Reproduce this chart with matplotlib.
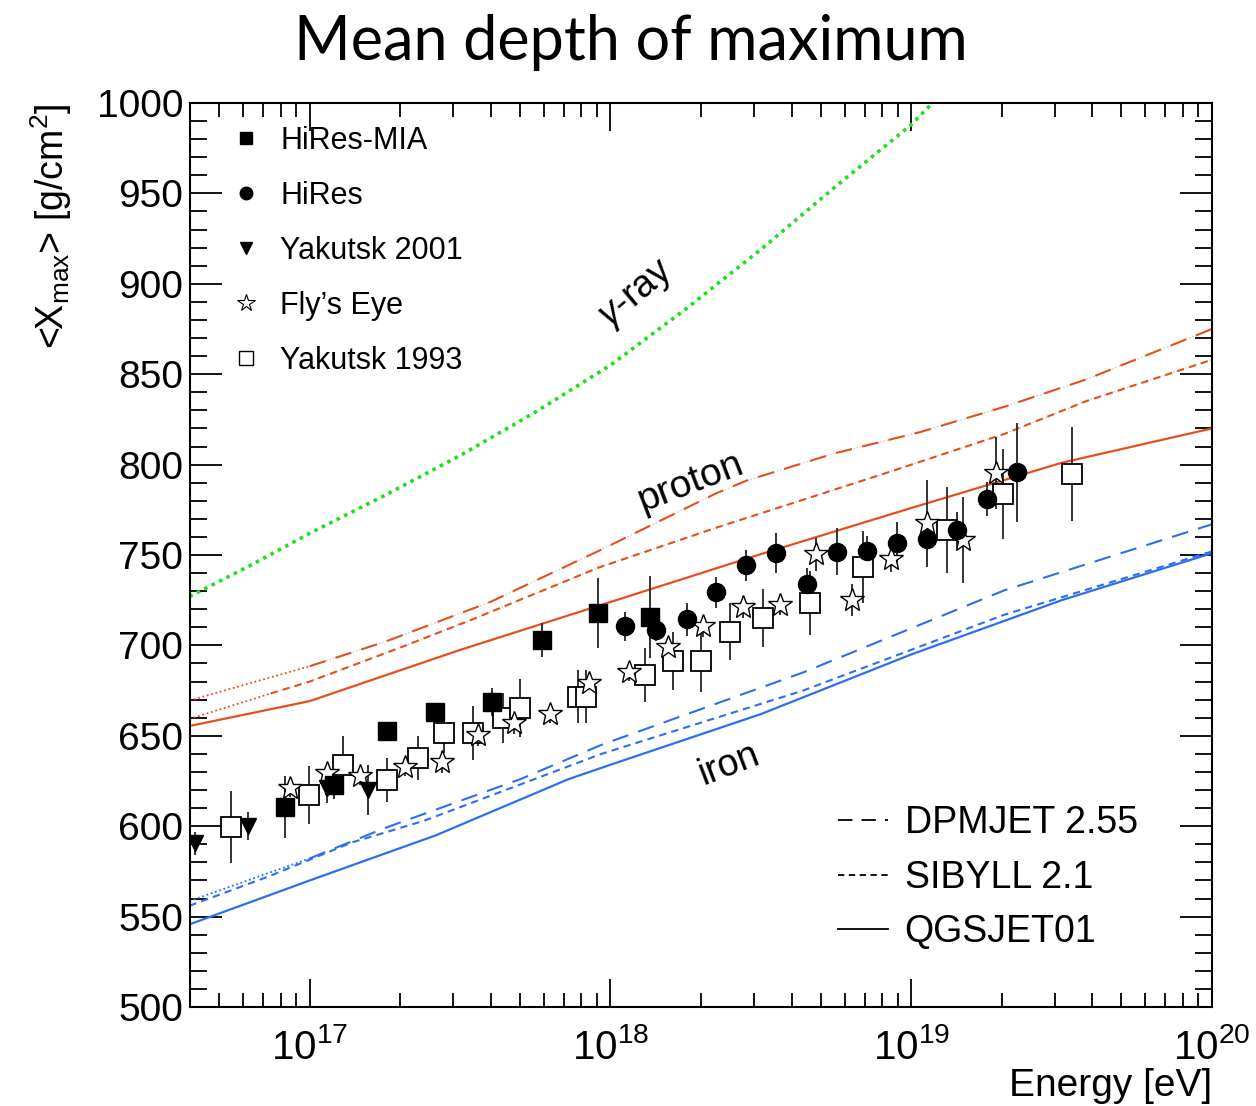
import numpy as np
import matplotlib
matplotlib.use('Agg')
import matplotlib.pyplot as plt
from matplotlib.lines import Line2D
from matplotlib.ticker import LogLocator, MultipleLocator, NullFormatter

plt.rcParams['font.family'] = ['Liberation Sans', 'DejaVu Sans']
plt.rcParams['mathtext.fontset'] = 'custom'
plt.rcParams['mathtext.rm'] = 'Liberation Sans'
plt.rcParams['mathtext.it'] = 'Liberation Sans:italic'

# --- data points (energy in eV, Xmax in g/cm2, error) ---
mia_E = [8.3e16, 1.2e17, 1.81e17, 2.6e17, 4.05e17, 5.9e17, 9.1e17, 1.35e18]
mia_X = [610.6, 622.8, 652.7, 663.2, 668.7, 703.0, 717.9, 715.7]
mia_err = [17, 8, 5, 5, 8, 9.5, 19.5, 22.5]

hires_E = [1.12e18, 1.42e18, 1.79e18, 2.25e18, 2.82e18, 3.56e18, 4.49e18,
           5.65e18, 7.11e18, 8.94e18, 1.125e19, 1.42e19, 1.78e19, 2.25e19]
hires_X = [710.7, 708.5, 714.4, 729.4, 744.3, 750.9, 733.9,
           751.7, 752.2, 756.5, 758.7, 763.8, 781.1, 795.7]
hires_err = [8, 6, 9, 8.5, 8.5, 11, 9, 13, 8.5, 12, 14, 10, 9.5, 27.5]

yak01_E = [4.16e16, 6.25e16, 1.14e17, 1.56e17]
yak01_X = [590.5, 600.1, 620.9, 620.0]
yak01_err = [6.5, 7.5, 8, 14]

fly_E = [8.6e16, 1.14e17, 1.47e17, 2.08e17, 2.75e17, 3.62e17, 4.76e17, 6.28e17,
         8.46e17, 1.15e18, 1.55e18, 2.03e18, 2.75e18, 3.67e18, 4.81e18, 6.34e18,
         8.54e18, 1.125e19, 1.49e19, 1.92e19]
fly_X = [620.9, 629.3, 627.8, 632.9, 635.7, 650.4, 656.9, 661.9,
         679.0, 685.5, 698.9, 710.7, 721.4, 722.6, 750.3, 725.1,
         747.6, 767.5, 758.3, 795.2]
fly_err = [5, 5, 5, 5, 6, 6, 6, 5, 6, 5, 6, 6, 6, 6, 9, 9, 7, 24, 24, 20]

yak93_E = [5.46e16, 9.96e16, 1.29e17, 1.80e17, 2.29e17, 2.79e17, 3.49e17,
           4.40e17, 4.99e17, 7.78e17, 8.32e17, 1.30e18, 1.61e18, 2.00e18,
           2.50e18, 3.21e18, 4.62e18, 6.93e18, 1.31e19, 2.02e19, 3.42e19]
yak93_X = [599.7, 617.3, 633.8, 625.5, 637.6, 651.4, 651.7,
           659.7, 665.6, 671.6, 671.6, 683.6, 691.5, 691.5,
           707.6, 715.3, 723.4, 743.5, 763.8, 783.6, 794.8]
yak93_err = [20, 16, 16.3, 12, 12.2, 11, 15, 13.8, 16, 14.7, 14.7, 15, 16, 17.5,
             15.9, 16, 17.8, 20, 23.8, 25, 25.8]

# --- model curves (log10 E, Xmax) ---
gam_lgE = [16.6, 16.8, 17.0, 17.25, 17.5, 17.75, 18.0, 18.25, 18.5, 18.75, 19.0, 19.1]
gam_X = [727, 744, 762, 783, 805, 829, 855, 886, 919, 954, 988, 1005]

p_dpm_lgE = [16.6, 17.0, 17.25, 17.6, 17.97, 18.35, 18.45, 18.74, 19.03, 19.31, 19.58, 20.0]
p_dpm_X = [669.5, 688.5, 702, 724, 753, 784, 791, 806, 818, 832, 847, 875]
p_sib_lgE = [16.6, 16.87, 17.0, 17.32, 17.55, 17.96, 18.35, 18.91, 19.31, 19.58, 20.0]
p_sib_X = [659.3, 673.4, 680, 700, 715, 743, 765, 795, 817, 835, 858]
p_qgs_lgE = [16.6, 17.0, 17.5, 18.0, 18.5, 19.0, 19.5, 20.0]
p_qgs_X = [655.4, 669.2, 697.5, 724, 750.5, 776, 801, 820]

fe_dpm_lgE = [16.6, 17.0, 17.25, 17.7, 17.97, 18.64, 19.31, 20.0]
fe_dpm_X = [558.6, 582.2, 599, 626, 645, 685, 730.5, 767]
fe_sib_lgE = [16.6, 16.86, 17.14, 17.38, 17.97, 18.64, 19.31, 20.0]
fe_sib_X = [556, 572, 591, 603, 640, 675, 717, 752]
fe_qgs_lgE = [16.6, 17.0, 17.42, 17.86, 18.0, 18.5, 19.0, 19.5, 20.0]
fe_qgs_X = [545.7, 570, 595, 626, 634, 662, 695, 725, 751]

red = '#e4501c'
blue = '#2b6ff0'
green = '#1ee01e'
LONG = (8, 5)
SHORT = (3.5, 2.5)

fig = plt.figure(figsize=(12.56, 11.06), dpi=100)
ax = fig.add_axes([0.1513, 0.0895, 0.8137, 0.8174])


def curve(lgE, X, color, style, split=None):
    E = 10 ** np.array(lgE)
    X = np.array(X)
    if split is not None:
        m = np.array(lgE) <= split + 1e-9
        ax.plot(E[m], X[m], color=color, lw=1.3, ls=(0, (1, 1.5)))
        E2 = np.concatenate([[10 ** split], E[~m]])
        X2 = np.concatenate([[np.interp(split, lgE, X)], X[~m]])
    else:
        E2, X2 = E, X
    if style == 'solid':
        ax.plot(E2, X2, color=color, lw=1.6)
    else:
        if color == red:
            ax.plot(E2, X2, color='#c8c8c8', lw=1.0, ls=(0, (1, 1.5)))
        ax.plot(E2, X2, color=color, lw=1.5, ls=(0, style))


ax.plot(10 ** np.array(gam_lgE), gam_X, color=green, lw=2.6, ls=(0, (1, 1.3)))

curve(p_dpm_lgE, p_dpm_X, red, LONG, split=17.0)
curve(p_sib_lgE, p_sib_X, red, SHORT, split=16.87)
curve(p_qgs_lgE, p_qgs_X, red, 'solid')
curve(fe_dpm_lgE, fe_dpm_X, blue, LONG, split=17.0)
curve(fe_sib_lgE, fe_sib_X, blue, SHORT)
curve(fe_qgs_lgE, fe_qgs_X, blue, 'solid')

ekw = dict(ls='none', ecolor='#333333', elinewidth=1.4, capsize=0, zorder=5)
ax.errorbar(yak93_E, yak93_X, yerr=yak93_err, marker='s', ms=15, mfc='white',
            mec='black', mew=1.3, **ekw)
ax.errorbar(fly_E, fly_X, yerr=fly_err, marker='*', ms=18, mfc='white',
            mec='black', mew=1.0, **ekw)
ax.errorbar(yak01_E, yak01_X, yerr=yak01_err, marker='v', ms=12, mfc='black',
            mec='black', **ekw)
ax.errorbar(mia_E, mia_X, yerr=mia_err, marker='s', ms=13, mfc='black',
            mec='black', **ekw)
ax.errorbar(hires_E, hires_X, yerr=hires_err, marker='o', ms=13, mfc='black',
            mec='black', **ekw)

ax.set_xscale('log')
ax.set_xlim(4e16, 1e20)
ax.set_ylim(500, 1000)
ax.xaxis.set_major_locator(LogLocator(base=10, numticks=10))
ax.xaxis.set_minor_locator(LogLocator(base=10, subs=np.arange(2, 10), numticks=20))
ax.xaxis.set_minor_formatter(NullFormatter())
ax.yaxis.set_major_locator(MultipleLocator(50))
ax.yaxis.set_minor_locator(MultipleLocator(10))

ax.tick_params(which='both', direction='in', top=True, right=True, width=1.3)
ax.tick_params(axis='y', which='major', length=23, labelsize=28, pad=5)
ax.tick_params(axis='y', which='minor', length=12)
ax.tick_params(axis='x', which='major', length=20, labelsize=29, pad=15)
ax.tick_params(axis='x', which='minor', length=10)
for s in ax.spines.values():
    s.set_linewidth(1.5)

ax.set_xlabel('Energy [eV]', fontsize=28, loc='right', labelpad=1)
ax.set_ylabel('<X$_{\\rm max}$> [g/cm$^2$]', fontsize=27, loc='top', labelpad=16)

fig.text(0.502, 0.962, 'Mean depth of maximum', ha='center', va='center',
         fontsize=44, family=['Lato', 'DejaVu Sans'])

ax.text(1.23e18, 894, '$\\gamma$-ray', fontsize=27, rotation=40,
        ha='center', va='center')
ax.text(1.85e18, 790, 'proton', fontsize=28, rotation=21,
        ha='center', va='center')
ax.text(2.47e18, 634, 'iron', fontsize=27, rotation=21,
        ha='center', va='center')

h1 = [Line2D([], [], ls='none', marker='s', ms=9, mfc='k', mec='k'),
      Line2D([], [], ls='none', marker='o', ms=9, mfc='k', mec='k'),
      Line2D([], [], ls='none', marker='v', ms=9, mfc='k', mec='k'),
      Line2D([], [], ls='none', marker='*', ms=13, mfc='white', mec='k', mew=0.8),
      Line2D([], [], ls='none', marker='s', ms=10, mfc='white', mec='k', mew=1.0)]
leg1 = ax.legend(h1, ['HiRes-MIA', 'HiRes', 'Yakutsk 2001', "Fly\u2019s Eye", 'Yakutsk 1993'],
                 loc='upper left', bbox_to_anchor=(0.040, 0.9746), frameon=False,
                 fontsize=22, handlelength=1.0, handletextpad=0.62,
                 labelspacing=0.82, borderpad=0, borderaxespad=0)
ax.add_artist(leg1)

h2 = [Line2D([], [], color='k', lw=1.3, ls=(0, LONG)),
      Line2D([], [], color='k', lw=1.3, ls=(0, SHORT)),
      Line2D([], [], color='k', lw=1.3)]
ax.legend(h2, ['DPMJET 2.55', 'SIBYLL 2.1', 'QGSJET01'],
          loc='upper left', bbox_to_anchor=(0.634, 0.2235), frameon=False,
          fontsize=27, handlelength=1.33, handletextpad=0.45,
          labelspacing=0.5, borderpad=0, borderaxespad=0)

fig.savefig('out.png', dpi=100)
